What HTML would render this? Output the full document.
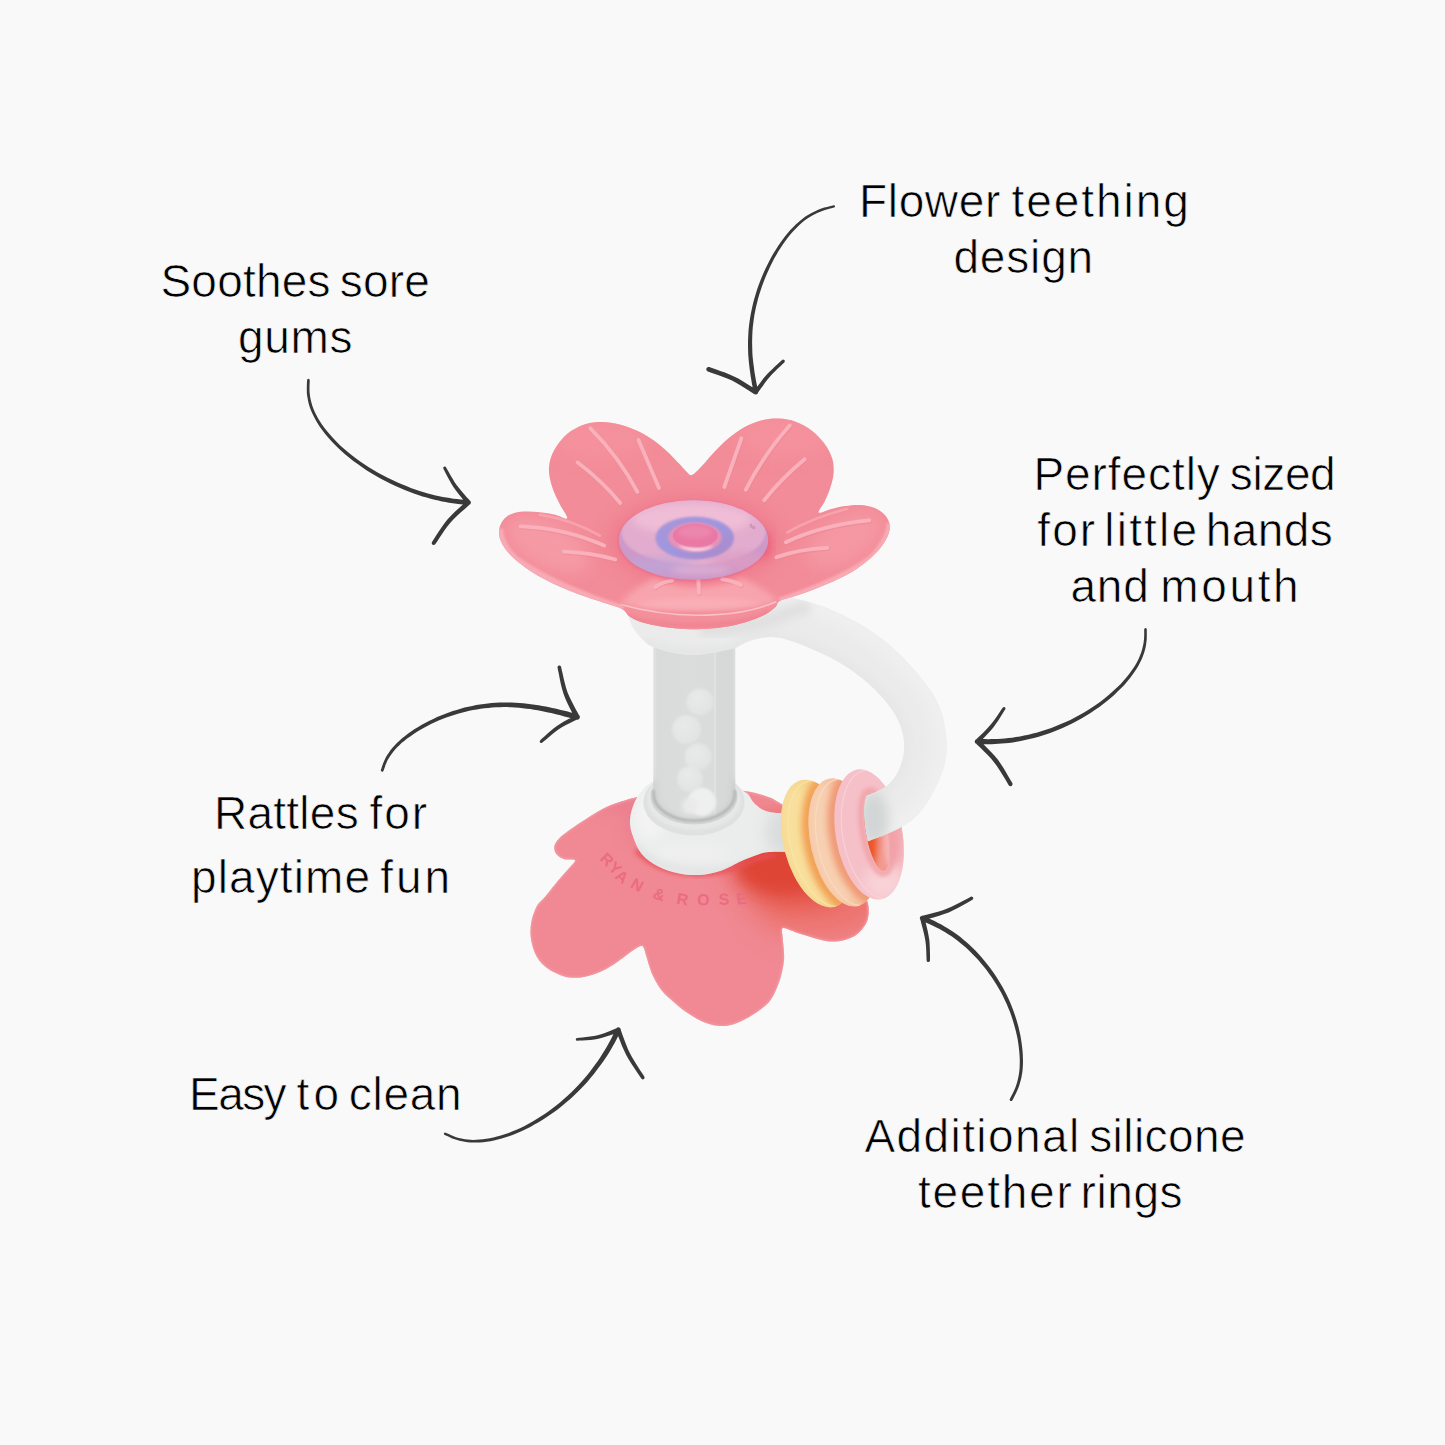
<!DOCTYPE html>
<html lang="en"><head><meta charset="utf-8"><title>Flower teether features</title>
<style>
html,body{margin:0;padding:0;background:#f9f9f9;}
body{width:1445px;height:1445px;overflow:hidden;position:relative;font-family:"Liberation Sans",sans-serif;}
svg{position:absolute;left:0;top:0;display:block}
.lbl{font-family:"Liberation Sans",sans-serif;font-size:46px;fill:#000;stroke:#f9f9f9;stroke-width:.7px;}
.brand{font-family:"Liberation Sans",sans-serif;font-size:16px;font-weight:bold;fill:#eb6c80;}
</style></head><body>
<svg width="1445" height="1445" viewBox="0 0 1445 1445">
<defs>
<filter id="b1" x="-20%" y="-20%" width="140%" height="140%"><feGaussianBlur stdDeviation="1"/></filter>
<filter id="b2" x="-20%" y="-20%" width="140%" height="140%"><feGaussianBlur stdDeviation="2"/></filter>
<filter id="b3" x="-30%" y="-30%" width="160%" height="160%"><feGaussianBlur stdDeviation="3"/></filter>
<filter id="b4" x="-30%" y="-30%" width="160%" height="160%"><feGaussianBlur stdDeviation="4"/></filter>
<filter id="b6" x="-40%" y="-40%" width="180%" height="180%"><feGaussianBlur stdDeviation="6"/></filter>
<filter id="b8" x="-50%" y="-50%" width="200%" height="200%"><feGaussianBlur stdDeviation="8"/></filter>
<filter id="b14" x="-50%" y="-50%" width="200%" height="200%"><feGaussianBlur stdDeviation="14"/></filter>
<clipPath id="cBase"><path d="M640.0 796.5 C630.0 798.5 625.9 800.1 619.7 802.1 C613.5 804.1 608.5 806.0 603.0 808.8 C597.5 811.6 591.9 815.3 586.4 818.8 C580.9 822.3 574.4 826.5 569.8 829.8 C565.2 833.1 561.4 835.9 558.8 838.7 C556.2 841.5 554.7 843.8 554.3 846.4 C553.9 849.0 554.8 852.1 556.5 854.2 C558.2 856.3 561.2 858.2 564.3 859.2 C567.4 860.2 574.3 858.6 575.0 860.2 C575.7 861.8 571.4 865.4 568.7 868.6 C566.0 871.9 562.7 875.1 558.8 879.7 C554.9 884.3 549.2 891.8 545.5 896.3 C541.8 900.8 539.0 902.1 536.6 906.6 C534.2 911.1 532.0 917.7 531.1 923.2 C530.2 928.7 530.2 934.3 531.1 939.8 C532.0 945.3 533.8 951.6 536.6 956.4 C539.4 961.2 543.1 965.3 547.7 968.6 C552.3 971.9 558.8 974.9 564.3 976.4 C569.8 977.9 575.4 978.1 580.9 977.5 C586.4 976.9 592.0 975.2 597.5 973.0 C603.0 970.8 608.6 967.7 614.1 964.2 C619.6 960.7 626.5 955.0 630.7 952.0 C635.0 949.0 637.5 947.2 639.6 946.5 C641.8 945.8 642.5 945.9 643.6 947.5 C644.7 949.1 644.7 951.6 646.2 956.1 C647.7 960.6 649.9 969.1 652.4 974.7 C654.9 980.3 658.0 985.5 661.1 989.7 C664.2 993.9 666.9 996.0 671.1 999.7 C675.3 1003.4 680.9 1008.5 686.1 1012.1 C691.3 1015.7 697.0 1019.2 702.2 1021.5 C707.4 1023.8 712.6 1025.2 717.2 1025.8 C721.8 1026.4 725.6 1026.0 729.7 1025.2 C733.9 1024.4 737.5 1023.0 742.1 1020.8 C746.7 1018.6 752.3 1015.6 757.1 1012.1 C761.9 1008.6 767.1 1004.9 770.8 999.7 C774.5 994.5 777.3 987.2 779.5 981.0 C781.7 974.8 783.1 967.5 783.8 962.3 C784.5 957.1 784.0 953.9 783.8 949.8 C783.6 945.6 782.8 941.0 782.6 937.4 C782.4 933.8 781.1 929.3 782.6 928.2 C784.1 927.1 788.7 929.8 791.9 930.8 C795.1 931.8 795.2 932.4 801.7 934.2 C808.2 936.0 822.3 941.0 830.8 941.5 C839.3 942.0 846.8 940.0 852.6 937.1 C858.4 934.2 863.0 928.6 865.7 924.0 C868.4 919.4 868.7 914.3 868.6 909.5 C868.5 904.7 868.1 903.2 865.0 895.0 C861.9 886.8 857.5 871.7 850.0 860.0 C842.5 848.3 828.3 833.0 820.0 825.0 C811.7 817.0 806.3 815.5 800.0 812.0 C793.7 808.5 787.0 806.6 782.0 804.2 C777.0 801.8 775.2 799.7 769.8 797.6 C764.4 795.5 757.7 793.2 749.4 791.8 C741.1 790.4 731.6 789.3 720.0 789.0 C708.4 788.7 693.3 788.8 680.0 790.0 C666.7 791.2 650.0 794.5 640.0 796.5 Z"/></clipPath>
<clipPath id="cFlower"><path d="M691.0 475.2 C692.7 475.1 694.5 473.2 696.7 471.3 C698.9 469.3 701.2 466.7 704.2 463.5 C707.2 460.2 710.6 455.8 714.7 451.5 C718.8 447.3 723.7 442.2 728.8 438.0 C733.8 433.9 739.6 429.8 745.1 426.8 C750.7 423.8 756.4 421.7 762.0 420.3 C767.5 418.9 773.1 418.3 778.7 418.6 C784.3 418.8 790.0 419.7 795.6 421.8 C801.1 423.8 807.0 427.0 811.9 430.7 C816.8 434.4 821.5 439.6 824.9 444.2 C828.3 448.9 830.8 454.0 832.3 458.8 C833.7 463.6 833.9 468.1 833.6 472.9 C833.3 477.7 831.8 483.0 830.3 487.8 C828.8 492.6 826.5 497.7 824.6 501.8 C822.6 506.0 817.5 511.4 818.6 512.6 C819.7 513.8 826.7 510.2 831.2 509.0 C835.6 507.9 840.5 506.6 845.4 506.0 C850.3 505.3 855.8 504.7 860.5 505.0 C865.3 505.3 870.2 506.2 874.1 507.8 C878.0 509.3 881.6 511.7 884.2 514.2 C886.7 516.7 888.5 519.8 889.3 523.0 C890.1 526.1 889.9 529.5 888.8 533.1 C887.8 536.7 885.7 540.6 882.9 544.6 C880.0 548.7 876.0 553.3 871.6 557.3 C867.1 561.4 861.8 565.5 856.2 569.2 C850.5 572.8 844.3 576.1 837.6 579.3 C831.0 582.5 823.2 585.7 816.2 588.4 C809.2 591.2 801.9 593.8 795.8 595.8 C789.8 597.9 783.4 599.0 779.9 600.9 C776.4 602.8 778.0 604.9 774.9 607.4 C771.8 610.0 767.7 613.4 761.5 616.2 C755.2 619.0 745.7 622.3 737.2 624.4 C728.8 626.4 718.7 627.8 710.8 628.6 C702.9 629.4 696.1 629.4 689.7 629.3 C683.3 629.2 678.2 628.7 672.5 628.1 C666.9 627.5 661.1 626.7 655.8 625.6 C650.4 624.5 644.8 623.2 640.4 621.7 C636.0 620.1 632.3 618.3 629.4 616.2 C626.5 614.2 626.0 611.2 622.9 609.4 C619.8 607.6 615.3 606.7 610.8 605.1 C606.2 603.6 601.0 602.0 595.6 600.1 C590.3 598.3 584.4 596.4 578.7 594.3 C573.1 592.2 567.5 590.0 561.9 587.5 C556.3 585.1 550.6 582.4 545.1 579.5 C539.6 576.6 533.9 573.3 529.0 570.0 C524.0 566.7 519.3 563.1 515.3 559.6 C511.4 556.1 508.0 552.5 505.4 549.0 C502.9 545.5 501.0 542.0 499.9 538.6 C498.9 535.2 498.7 531.8 499.3 528.7 C499.8 525.5 501.3 522.4 503.3 519.9 C505.4 517.5 508.1 515.3 511.6 513.9 C515.0 512.5 519.2 511.8 523.9 511.5 C528.6 511.2 534.6 511.6 539.8 512.2 C545.0 512.7 550.7 513.8 555.2 514.8 C559.8 515.8 566.5 520.2 567.2 518.3 C567.9 516.4 561.8 508.6 559.4 503.5 C556.9 498.5 554.1 493.0 552.4 487.8 C550.7 482.6 549.2 477.2 549.0 472.1 C548.7 467.0 549.4 462.1 551.0 457.2 C552.7 452.4 555.4 447.4 558.8 443.0 C562.1 438.7 566.5 434.3 571.0 431.1 C575.6 428.0 580.8 425.4 586.0 423.9 C591.2 422.3 596.7 421.8 602.3 421.9 C608.0 422.0 613.9 423.0 619.7 424.5 C625.5 426.0 631.5 428.2 637.1 430.7 C642.7 433.3 648.1 436.4 653.2 439.9 C658.3 443.4 663.2 447.7 667.5 451.7 C671.8 455.6 675.8 460.2 679.0 463.6 C682.1 466.9 684.3 469.6 686.3 471.6 C688.3 473.5 689.3 475.3 691.0 475.2 Z"/></clipPath>
<clipPath id="cHandle"><path d="M785.0 596.0 C787.4 596.6 794.4 598.3 799.1 599.5 C803.8 600.7 808.4 601.8 813.1 603.3 C817.7 604.7 822.3 606.2 826.9 608.0 C831.5 609.8 836.1 611.9 840.7 614.0 C845.3 616.2 850.0 618.6 854.6 621.1 C859.2 623.6 863.8 626.3 868.4 629.3 C873.0 632.3 877.6 635.5 882.3 639.1 C886.9 642.8 891.8 646.8 896.3 651.1 C900.8 655.3 905.4 660.0 909.6 664.5 C913.7 669.1 917.6 673.6 921.2 678.2 C924.8 682.7 928.3 687.0 931.4 691.8 C934.5 696.6 937.4 701.6 939.5 706.9 C941.7 712.2 943.2 718.2 944.3 723.4 C945.4 728.7 945.9 733.7 946.3 738.5 C946.7 743.3 947.3 746.8 946.7 752.3 C946.0 757.8 945.1 764.1 942.4 771.6 C939.8 779.1 935.2 789.4 930.6 797.2 C925.9 805.0 920.4 812.6 914.4 818.1 C908.4 823.6 901.9 826.8 894.8 830.4 C887.7 834.0 879.0 836.9 871.9 839.8 C864.8 842.8 855.3 846.6 852.0 848.0 L850.0 801.0 C852.5 800.2 860.3 797.7 864.8 796.1 C869.2 794.5 873.4 793.0 876.9 791.4 C880.4 789.8 883.1 788.6 885.9 786.5 C888.6 784.4 891.1 782.2 893.5 779.0 C895.8 775.8 898.3 771.7 900.0 767.4 C901.8 763.2 903.1 758.2 903.8 753.6 C904.4 748.9 904.4 744.1 903.8 739.5 C903.3 734.9 902.1 730.3 900.4 725.7 C898.6 721.0 896.2 716.3 893.2 711.6 C890.1 706.8 886.2 701.8 882.2 697.2 C878.1 692.5 873.3 687.8 868.7 683.7 C864.1 679.5 859.3 675.8 854.6 672.4 C850.0 669.0 845.3 666.0 840.7 663.3 C836.1 660.5 831.5 658.1 826.9 655.8 C822.3 653.4 817.6 651.4 813.0 649.4 C808.4 647.4 803.8 645.4 799.2 643.7 C794.6 642.0 790.0 640.3 785.4 639.2 C780.8 638.1 776.1 637.2 771.4 637.1 C766.7 637.0 761.7 637.7 757.2 638.7 C752.8 639.6 748.5 641.4 744.8 642.9 C741.2 644.5 737.1 647.2 735.5 648.1 C732.1 648.8 722.1 651.4 715.0 652.5 C707.9 653.6 700.2 655.0 693.0 655.0 C685.8 655.0 678.5 653.8 672.0 652.5 C665.5 651.2 658.9 649.1 654.3 647.2 C649.7 645.4 648.1 644.6 644.6 641.4 C641.1 638.2 635.9 632.7 633.0 627.8 C630.1 622.9 628.0 614.6 627.0 612.0 Z"/></clipPath>
<clipPath id="cCollar"><path d="M654.3 780.8 C652.7 781.9 647.8 784.2 644.6 787.7 C641.4 791.2 637.3 796.2 634.9 801.5 C632.5 806.8 630.4 813.7 630.0 819.5 C629.6 825.3 630.8 830.3 632.8 836.1 C634.8 841.9 637.5 849.0 641.8 854.1 C646.1 859.2 652.2 863.4 658.4 866.6 C664.6 869.8 672.3 872.1 679.2 873.5 C686.1 874.9 693.1 875.4 700.0 874.9 C706.9 874.4 713.8 873.0 720.7 870.7 C727.6 868.4 735.7 863.5 741.5 861.0 C747.3 858.5 750.7 857.0 755.3 855.5 C759.9 854.0 761.8 852.6 769.2 852.0 C776.7 851.4 794.9 852.0 800.0 852.0 L800.0 814.0 C794.9 813.6 776.7 813.5 769.2 811.9 C761.8 810.3 758.8 807.2 755.3 804.3 C751.8 801.4 750.5 796.9 748.4 794.6 C746.3 792.3 745.2 792.5 742.9 790.4 C740.6 788.3 736.0 783.5 734.6 782.1 Z"/></clipPath>
<clipPath id="cPink"><ellipse cx="869.1" cy="834.4" rx="33.3" ry="65.9" transform="rotate(-10.4 869.1 834.4)" /></clipPath>
<clipPath id="cPeach"><ellipse cx="843.2" cy="842.4" rx="32.4" ry="65.4" transform="rotate(-12.8 843.2 842.4)" /></clipPath>
<clipPath id="cYellow"><ellipse cx="817.75" cy="843.55" rx="33.8" ry="65.5" transform="rotate(-15.2 817.75 843.55)" /></clipPath>
<clipPath id="cHole"><ellipse cx="876.7" cy="832" rx="10.8" ry="39.6" transform="rotate(-10.4 876.7 832)" /></clipPath>
<mask id="mHandle" maskUnits="userSpaceOnUse" x="600" y="560" width="400" height="360"><rect x="600" y="560" width="400" height="360" fill="#fff"/><ellipse cx="869.1" cy="834.4" rx="33.3" ry="65.9" transform="rotate(-10.4 869.1 834.4)" fill="#000"/><ellipse cx="876.7" cy="832" rx="10.8" ry="39.6" transform="rotate(-10.4 876.7 832)" fill="#fff"/><path d="M865.9 773 L887.5 891 L960 891 L960 773 Z" fill="#fff"/></mask>
<clipPath id="cDisc"><ellipse cx="693.5" cy="540" rx="74.7" ry="39.7"/></clipPath>
<clipPath id="cTube"><path d="M653.2 647 L735.3 647 L735.3 794 A41 27 0 0 1 653.2 794 Z"/></clipPath>
<linearGradient id="gTube" x1="0" x2="1" y1="0" y2="0">
 <stop offset="0" stop-color="#e2e3e3"/><stop offset=".05" stop-color="#d9dada"/><stop offset=".4" stop-color="#dbdcdc"/><stop offset=".735" stop-color="#dadbdb"/><stop offset=".75" stop-color="#e3e4e4"/><stop offset=".775" stop-color="#d7d8d8"/><stop offset=".96" stop-color="#d6d7d7"/><stop offset="1" stop-color="#dedfdf"/>
</linearGradient>
<linearGradient id="gBlue" x1="0" x2="1" y1="0" y2="1"><stop offset="0" stop-color="#ab96d6"/><stop offset=".5" stop-color="#9e97e0"/><stop offset="1" stop-color="#b086c4"/></linearGradient>
<radialGradient id="gBead" cx=".4" cy=".35" r=".7"><stop offset="0" stop-color="#e8e9e9"/><stop offset="1" stop-color="#e1e2e2"/></radialGradient>
</defs>
<rect width="1445" height="1445" fill="#f9f9f9"/>

<g id="product">
<path d="M640.0 796.5 C630.0 798.5 625.9 800.1 619.7 802.1 C613.5 804.1 608.5 806.0 603.0 808.8 C597.5 811.6 591.9 815.3 586.4 818.8 C580.9 822.3 574.4 826.5 569.8 829.8 C565.2 833.1 561.4 835.9 558.8 838.7 C556.2 841.5 554.7 843.8 554.3 846.4 C553.9 849.0 554.8 852.1 556.5 854.2 C558.2 856.3 561.2 858.2 564.3 859.2 C567.4 860.2 574.3 858.6 575.0 860.2 C575.7 861.8 571.4 865.4 568.7 868.6 C566.0 871.9 562.7 875.1 558.8 879.7 C554.9 884.3 549.2 891.8 545.5 896.3 C541.8 900.8 539.0 902.1 536.6 906.6 C534.2 911.1 532.0 917.7 531.1 923.2 C530.2 928.7 530.2 934.3 531.1 939.8 C532.0 945.3 533.8 951.6 536.6 956.4 C539.4 961.2 543.1 965.3 547.7 968.6 C552.3 971.9 558.8 974.9 564.3 976.4 C569.8 977.9 575.4 978.1 580.9 977.5 C586.4 976.9 592.0 975.2 597.5 973.0 C603.0 970.8 608.6 967.7 614.1 964.2 C619.6 960.7 626.5 955.0 630.7 952.0 C635.0 949.0 637.5 947.2 639.6 946.5 C641.8 945.8 642.5 945.9 643.6 947.5 C644.7 949.1 644.7 951.6 646.2 956.1 C647.7 960.6 649.9 969.1 652.4 974.7 C654.9 980.3 658.0 985.5 661.1 989.7 C664.2 993.9 666.9 996.0 671.1 999.7 C675.3 1003.4 680.9 1008.5 686.1 1012.1 C691.3 1015.7 697.0 1019.2 702.2 1021.5 C707.4 1023.8 712.6 1025.2 717.2 1025.8 C721.8 1026.4 725.6 1026.0 729.7 1025.2 C733.9 1024.4 737.5 1023.0 742.1 1020.8 C746.7 1018.6 752.3 1015.6 757.1 1012.1 C761.9 1008.6 767.1 1004.9 770.8 999.7 C774.5 994.5 777.3 987.2 779.5 981.0 C781.7 974.8 783.1 967.5 783.8 962.3 C784.5 957.1 784.0 953.9 783.8 949.8 C783.6 945.6 782.8 941.0 782.6 937.4 C782.4 933.8 781.1 929.3 782.6 928.2 C784.1 927.1 788.7 929.8 791.9 930.8 C795.1 931.8 795.2 932.4 801.7 934.2 C808.2 936.0 822.3 941.0 830.8 941.5 C839.3 942.0 846.8 940.0 852.6 937.1 C858.4 934.2 863.0 928.6 865.7 924.0 C868.4 919.4 868.7 914.3 868.6 909.5 C868.5 904.7 868.1 903.2 865.0 895.0 C861.9 886.8 857.5 871.7 850.0 860.0 C842.5 848.3 828.3 833.0 820.0 825.0 C811.7 817.0 806.3 815.5 800.0 812.0 C793.7 808.5 787.0 806.6 782.0 804.2 C777.0 801.8 775.2 799.7 769.8 797.6 C764.4 795.5 757.7 793.2 749.4 791.8 C741.1 790.4 731.6 789.3 720.0 789.0 C708.4 788.7 693.3 788.8 680.0 790.0 C666.7 791.2 650.0 794.5 640.0 796.5 Z" fill="#f08993"/>
<g clip-path="url(#cBase)">
<ellipse cx="822" cy="900" rx="70" ry="40" fill="#ec6e64" opacity=".7" filter="url(#b14)"/>
<ellipse cx="797" cy="862" rx="64" ry="42" fill="#e14a3a" filter="url(#b14)"/>
<ellipse cx="778" cy="868" rx="40" ry="22" fill="#de4434" filter="url(#b8)"/>
<path d="M636 850 C655 872 700 882 740 866 C755 859 765 856 775 855" stroke="#ea5058" stroke-width="5" fill="none" opacity=".85" filter="url(#b2)"/>
<path d="M596 803 C620 796 640 800 636 840" stroke="#e4718a" stroke-width="14" fill="none" opacity=".55" filter="url(#b8)"/>
</g>
<g clip-path="url(#cBase)">
<path d="M640.0 796.5 C630.0 798.5 625.9 800.1 619.7 802.1 C613.5 804.1 608.5 806.0 603.0 808.8 C597.5 811.6 591.9 815.3 586.4 818.8 C580.9 822.3 574.4 826.5 569.8 829.8 C565.2 833.1 561.4 835.9 558.8 838.7 C556.2 841.5 554.7 843.8 554.3 846.4 C553.9 849.0 554.8 852.1 556.5 854.2 C558.2 856.3 561.2 858.2 564.3 859.2 C567.4 860.2 574.3 858.6 575.0 860.2 C575.7 861.8 571.4 865.4 568.7 868.6 C566.0 871.9 562.7 875.1 558.8 879.7 C554.9 884.3 549.2 891.8 545.5 896.3 C541.8 900.8 539.0 902.1 536.6 906.6 C534.2 911.1 532.0 917.7 531.1 923.2 C530.2 928.7 530.2 934.3 531.1 939.8 C532.0 945.3 533.8 951.6 536.6 956.4 C539.4 961.2 543.1 965.3 547.7 968.6 C552.3 971.9 558.8 974.9 564.3 976.4 C569.8 977.9 575.4 978.1 580.9 977.5 C586.4 976.9 592.0 975.2 597.5 973.0 C603.0 970.8 608.6 967.7 614.1 964.2 C619.6 960.7 626.5 955.0 630.7 952.0 C635.0 949.0 637.5 947.2 639.6 946.5 C641.8 945.8 642.5 945.9 643.6 947.5 C644.7 949.1 644.7 951.6 646.2 956.1 C647.7 960.6 649.9 969.1 652.4 974.7 C654.9 980.3 658.0 985.5 661.1 989.7 C664.2 993.9 666.9 996.0 671.1 999.7 C675.3 1003.4 680.9 1008.5 686.1 1012.1 C691.3 1015.7 697.0 1019.2 702.2 1021.5 C707.4 1023.8 712.6 1025.2 717.2 1025.8 C721.8 1026.4 725.6 1026.0 729.7 1025.2 C733.9 1024.4 737.5 1023.0 742.1 1020.8 C746.7 1018.6 752.3 1015.6 757.1 1012.1 C761.9 1008.6 767.1 1004.9 770.8 999.7 C774.5 994.5 777.3 987.2 779.5 981.0 C781.7 974.8 783.1 967.5 783.8 962.3 C784.5 957.1 784.0 953.9 783.8 949.8 C783.6 945.6 782.8 941.0 782.6 937.4 C782.4 933.8 781.1 929.3 782.6 928.2 C784.1 927.1 788.7 929.8 791.9 930.8 C795.1 931.8 795.2 932.4 801.7 934.2 C808.2 936.0 822.3 941.0 830.8 941.5 C839.3 942.0 846.8 940.0 852.6 937.1 C858.4 934.2 863.0 928.6 865.7 924.0 C868.4 919.4 868.7 914.3 868.6 909.5 C868.5 904.7 868.1 903.2 865.0 895.0 C861.9 886.8 857.5 871.7 850.0 860.0 C842.5 848.3 828.3 833.0 820.0 825.0 C811.7 817.0 806.3 815.5 800.0 812.0 C793.7 808.5 787.0 806.6 782.0 804.2 C777.0 801.8 775.2 799.7 769.8 797.6 C764.4 795.5 757.7 793.2 749.4 791.8 C741.1 790.4 731.6 789.3 720.0 789.0 C708.4 788.7 693.3 788.8 680.0 790.0 C666.7 791.2 650.0 794.5 640.0 796.5 Z" fill="none" stroke="#f6a3ab" stroke-width="2.4" opacity=".7" filter="url(#b1)"/>
</g>
<text class="brand" x="598.9 607.4 614.1 629.5 643.6 652.1 667.6 676.1 696.9 718.9 737.1" y="859.5 868.8 877.4 886.9 894.3 897.9 902.1 903.7 905.0 904.9 904.7" rotate="44 42 38 29 24 17 12 9 2 -3 -7">RYAN &amp; ROSE</text>
<path d="M654.3 780.8 C652.7 781.9 647.8 784.2 644.6 787.7 C641.4 791.2 637.3 796.2 634.9 801.5 C632.5 806.8 630.4 813.7 630.0 819.5 C629.6 825.3 630.8 830.3 632.8 836.1 C634.8 841.9 637.5 849.0 641.8 854.1 C646.1 859.2 652.2 863.4 658.4 866.6 C664.6 869.8 672.3 872.1 679.2 873.5 C686.1 874.9 693.1 875.4 700.0 874.9 C706.9 874.4 713.8 873.0 720.7 870.7 C727.6 868.4 735.7 863.5 741.5 861.0 C747.3 858.5 750.7 857.0 755.3 855.5 C759.9 854.0 761.8 852.6 769.2 852.0 C776.7 851.4 794.9 852.0 800.0 852.0 L800.0 814.0 C794.9 813.6 776.7 813.5 769.2 811.9 C761.8 810.3 758.8 807.2 755.3 804.3 C751.8 801.4 750.5 796.9 748.4 794.6 C746.3 792.3 745.2 792.5 742.9 790.4 C740.6 788.3 736.0 783.5 734.6 782.1 Z" fill="#ebecec"/>
<g clip-path="url(#cCollar)">
<ellipse cx="650" cy="815" rx="16" ry="26" fill="#f3f3f3" filter="url(#b6)"/>
<ellipse cx="690" cy="852" rx="40" ry="8" fill="#efefef" filter="url(#b4)"/>
<ellipse cx="790" cy="832" rx="24" ry="26" fill="#d9dcdc" filter="url(#b8)"/>
<path d="M636 846 C655 874 720 882 765 855" stroke="#e2e3e3" stroke-width="7" fill="none" filter="url(#b3)"/>
</g>
<ellipse cx="694" cy="802.5" rx="50.5" ry="33" fill="#dfe0e0"/>
<ellipse cx="694" cy="800" rx="47" ry="30" fill="#e6e7e7" filter="url(#b1)"/>
<ellipse cx="694" cy="797" rx="43.5" ry="27.5" fill="#d3d4d4"/>
<path d="M653.2 647 L735.3 647 L735.3 794 A41 27 0 0 1 653.2 794 Z" fill="url(#gTube)"/>
<g clip-path="url(#cTube)">
<circle cx="700" cy="702" r="13.5" fill="url(#gBead)" filter="url(#b1)"/>
<circle cx="686.5" cy="729.5" r="14.5" fill="url(#gBead)" filter="url(#b1)"/>
<circle cx="698" cy="757" r="13.5" fill="url(#gBead)" filter="url(#b1)"/>
<circle cx="690" cy="779" r="13" fill="url(#gBead)" filter="url(#b1)"/>
<circle cx="702" cy="802" r="14.5" fill="url(#gBead)" filter="url(#b1)"/>
<path d="M651 780 L651 794 A43 30 0 0 0 737.5 794 L737.5 780" fill="none" stroke="#bfc0c0" stroke-width="7" opacity=".8" filter="url(#b3)"/>
<circle cx="702" cy="802" r="13.5" fill="#efefef" filter="url(#b1)"/>
<circle cx="690" cy="806" r="8" fill="#eaeaea" filter="url(#b2)"/>
</g>
<path d="M653.6 790 L653.6 794 A40.6 26.6 0 0 0 734.9 794 L734.9 790" fill="none" stroke="#a9aaaa" stroke-width="2" opacity=".9" filter="url(#b1)"/>
<ellipse cx="817.75" cy="843.55" rx="33.8" ry="65.5" transform="rotate(-15.2 817.75 843.55)" fill="#f5d78f"/>
<g clip-path="url(#cYellow)">
<ellipse cx="808.75" cy="844.55" rx="23.799999999999997" ry="59.5" transform="rotate(-15.2 808.75 844.55)" fill="#f8df9c" filter="url(#b4)"/>
<ellipse cx="845.2" cy="842.4" rx="35.4" ry="67.4" transform="rotate(-12.8 845.2 842.4)" fill="none" stroke="#f2a055" stroke-width="12" filter="url(#b3)"/>
</g>
<g clip-path="url(#cYellow)"><ellipse cx="824.75" cy="843.55" rx="33.8" ry="64.5" transform="rotate(-15.2 824.75 843.55)" fill="none" stroke="#fbe6ae" stroke-width="1.1" opacity=".8"/></g>
<ellipse cx="843.2" cy="842.4" rx="32.4" ry="65.4" transform="rotate(-12.8 843.2 842.4)" fill="#f5c6a4"/>
<g clip-path="url(#cPeach)">
<ellipse cx="834.2" cy="843.4" rx="22.4" ry="59.400000000000006" transform="rotate(-12.8 834.2 843.4)" fill="#f7d0b2" filter="url(#b4)"/>
<ellipse cx="871.1" cy="834.4" rx="36.3" ry="67.9" transform="rotate(-10.4 871.1 834.4)" fill="none" stroke="#f09a74" stroke-width="12" filter="url(#b3)"/>
</g>
<g clip-path="url(#cPeach)"><ellipse cx="850.2" cy="842.4" rx="32.4" ry="64.4" transform="rotate(-12.8 850.2 842.4)" fill="none" stroke="#fbdcc6" stroke-width="1.1" opacity=".8"/></g>
<ellipse cx="869.1" cy="834.4" rx="33.3" ry="65.9" transform="rotate(-10.4 869.1 834.4)" fill="#f5c0c8"/>
<g clip-path="url(#cPink)">
<ellipse cx="884" cy="882" rx="20" ry="18" fill="#f8d2d6" filter="url(#b6)"/>
<ellipse cx="895" cy="838" rx="8" ry="28" fill="#f3a4aa" filter="url(#b4)"/>
<ellipse cx="876.7" cy="832" rx="13.8" ry="42.6" transform="rotate(-10.4 876.7 832)" fill="none" stroke="#f0a0a6" stroke-width="5" filter="url(#b2)"/>
</g>
<g clip-path="url(#cPink)"><ellipse cx="876.1" cy="834.4" rx="33.3" ry="64.9" transform="rotate(-10.4 876.1 834.4)" fill="none" stroke="#fad6da" stroke-width="1.1" opacity=".8"/></g>
<ellipse cx="876.7" cy="832" rx="10.8" ry="39.6" transform="rotate(-10.4 876.7 832)" fill="#f39a90"/>
<g clip-path="url(#cHole)">
<ellipse cx="868" cy="842" rx="9" ry="32" fill="#eb5426" filter="url(#b3)"/>
<ellipse cx="889" cy="840" rx="5" ry="26" fill="#f6b4b4" filter="url(#b2)"/>
</g>
<g mask="url(#mHandle)">
<path d="M785.0 596.0 C787.4 596.6 794.4 598.3 799.1 599.5 C803.8 600.7 808.4 601.8 813.1 603.3 C817.7 604.7 822.3 606.2 826.9 608.0 C831.5 609.8 836.1 611.9 840.7 614.0 C845.3 616.2 850.0 618.6 854.6 621.1 C859.2 623.6 863.8 626.3 868.4 629.3 C873.0 632.3 877.6 635.5 882.3 639.1 C886.9 642.8 891.8 646.8 896.3 651.1 C900.8 655.3 905.4 660.0 909.6 664.5 C913.7 669.1 917.6 673.6 921.2 678.2 C924.8 682.7 928.3 687.0 931.4 691.8 C934.5 696.6 937.4 701.6 939.5 706.9 C941.7 712.2 943.2 718.2 944.3 723.4 C945.4 728.7 945.9 733.7 946.3 738.5 C946.7 743.3 947.3 746.8 946.7 752.3 C946.0 757.8 945.1 764.1 942.4 771.6 C939.8 779.1 935.2 789.4 930.6 797.2 C925.9 805.0 920.4 812.6 914.4 818.1 C908.4 823.6 901.9 826.8 894.8 830.4 C887.7 834.0 879.0 836.9 871.9 839.8 C864.8 842.8 855.3 846.6 852.0 848.0 L850.0 801.0 C852.5 800.2 860.3 797.7 864.8 796.1 C869.2 794.5 873.4 793.0 876.9 791.4 C880.4 789.8 883.1 788.6 885.9 786.5 C888.6 784.4 891.1 782.2 893.5 779.0 C895.8 775.8 898.3 771.7 900.0 767.4 C901.8 763.2 903.1 758.2 903.8 753.6 C904.4 748.9 904.4 744.1 903.8 739.5 C903.3 734.9 902.1 730.3 900.4 725.7 C898.6 721.0 896.2 716.3 893.2 711.6 C890.1 706.8 886.2 701.8 882.2 697.2 C878.1 692.5 873.3 687.8 868.7 683.7 C864.1 679.5 859.3 675.8 854.6 672.4 C850.0 669.0 845.3 666.0 840.7 663.3 C836.1 660.5 831.5 658.1 826.9 655.8 C822.3 653.4 817.6 651.4 813.0 649.4 C808.4 647.4 803.8 645.4 799.2 643.7 C794.6 642.0 790.0 640.3 785.4 639.2 C780.8 638.1 776.1 637.2 771.4 637.1 C766.7 637.0 761.7 637.7 757.2 638.7 C752.8 639.6 748.5 641.4 744.8 642.9 C741.2 644.5 737.1 647.2 735.5 648.1 C732.1 648.8 722.1 651.4 715.0 652.5 C707.9 653.6 700.2 655.0 693.0 655.0 C685.8 655.0 678.5 653.8 672.0 652.5 C665.5 651.2 658.9 649.1 654.3 647.2 C649.7 645.4 648.1 644.6 644.6 641.4 C641.1 638.2 635.9 632.7 633.0 627.8 C630.1 622.9 628.0 614.6 627.0 612.0 Z" fill="#ebebeb"/>
<g clip-path="url(#cHandle)">
<path d="M785.0 596.0 C787.4 596.6 794.4 598.3 799.1 599.5 C803.8 600.7 808.4 601.8 813.1 603.3 C817.7 604.7 822.3 606.2 826.9 608.0 C831.5 609.8 836.1 611.9 840.7 614.0 C845.3 616.2 850.0 618.6 854.6 621.1 C859.2 623.6 863.8 626.3 868.4 629.3 C873.0 632.3 877.6 635.5 882.3 639.1 C886.9 642.8 891.8 646.8 896.3 651.1 C900.8 655.3 905.4 660.0 909.6 664.5 C913.7 669.1 917.6 673.6 921.2 678.2 C924.8 682.7 928.3 687.0 931.4 691.8 C934.5 696.6 937.4 701.6 939.5 706.9 C941.7 712.2 943.2 718.2 944.3 723.4 C945.4 728.7 945.9 733.7 946.3 738.5 C946.7 743.3 947.3 746.8 946.7 752.3 C946.0 757.8 945.1 764.1 942.4 771.6 C939.8 779.1 935.2 789.4 930.6 797.2 C925.9 805.0 920.4 812.6 914.4 818.1 C908.4 823.6 898.0 828.3 894.8 830.4" stroke="#efefef" stroke-width="26" fill="none" filter="url(#b6)"/>
<path d="M864.8 796.1 C866.8 795.3 873.4 793.0 876.9 791.4 C880.4 789.8 883.1 788.6 885.9 786.5 C888.6 784.4 891.1 782.2 893.5 779.0 C895.8 775.8 898.3 771.7 900.0 767.4 C901.8 763.2 903.1 758.2 903.8 753.6 C904.4 748.9 904.4 744.1 903.8 739.5 C903.3 734.9 902.1 730.3 900.4 725.7 C898.6 721.0 896.2 716.3 893.2 711.6 C890.1 706.8 886.2 701.8 882.2 697.2 C878.1 692.5 873.3 687.8 868.7 683.7 C864.1 679.5 859.3 675.8 854.6 672.4 C850.0 669.0 845.3 666.0 840.7 663.3 C836.1 660.5 831.5 658.1 826.9 655.8 C822.3 653.4 817.6 651.4 813.0 649.4 C808.4 647.4 803.8 645.4 799.2 643.7 C794.6 642.0 790.0 640.3 785.4 639.2 C780.8 638.1 776.1 637.2 771.4 637.1 C766.7 637.0 761.7 637.7 757.2 638.7 C752.8 639.6 748.5 641.4 744.8 642.9 C741.2 644.5 737.1 647.2 735.5 648.1" stroke="#e7e7e7" stroke-width="14" fill="none" filter="url(#b4)"/>
<ellipse cx="874" cy="818" rx="14" ry="26" fill="#d2d5d5" filter="url(#b6)"/>
<path d="M700 630 C740 630 770 622 790 612 L810 606" stroke="#e0e0e0" stroke-width="14" fill="none" filter="url(#b4)"/>
<path d="M644 641 C670 655 720 655 742 644" stroke="#e4e5e5" stroke-width="8" fill="none" filter="url(#b3)"/>
</g>
</g>
<path d="M691.0 475.2 C692.7 475.1 694.5 473.2 696.7 471.3 C698.9 469.3 701.2 466.7 704.2 463.5 C707.2 460.2 710.6 455.8 714.7 451.5 C718.8 447.3 723.7 442.2 728.8 438.0 C733.8 433.9 739.6 429.8 745.1 426.8 C750.7 423.8 756.4 421.7 762.0 420.3 C767.5 418.9 773.1 418.3 778.7 418.6 C784.3 418.8 790.0 419.7 795.6 421.8 C801.1 423.8 807.0 427.0 811.9 430.7 C816.8 434.4 821.5 439.6 824.9 444.2 C828.3 448.9 830.8 454.0 832.3 458.8 C833.7 463.6 833.9 468.1 833.6 472.9 C833.3 477.7 831.8 483.0 830.3 487.8 C828.8 492.6 826.5 497.7 824.6 501.8 C822.6 506.0 817.5 511.4 818.6 512.6 C819.7 513.8 826.7 510.2 831.2 509.0 C835.6 507.9 840.5 506.6 845.4 506.0 C850.3 505.3 855.8 504.7 860.5 505.0 C865.3 505.3 870.2 506.2 874.1 507.8 C878.0 509.3 881.6 511.7 884.2 514.2 C886.7 516.7 888.5 519.8 889.3 523.0 C890.1 526.1 889.9 529.5 888.8 533.1 C887.8 536.7 885.7 540.6 882.9 544.6 C880.0 548.7 876.0 553.3 871.6 557.3 C867.1 561.4 861.8 565.5 856.2 569.2 C850.5 572.8 844.3 576.1 837.6 579.3 C831.0 582.5 823.2 585.7 816.2 588.4 C809.2 591.2 801.9 593.8 795.8 595.8 C789.8 597.9 783.4 599.0 779.9 600.9 C776.4 602.8 778.0 604.9 774.9 607.4 C771.8 610.0 767.7 613.4 761.5 616.2 C755.2 619.0 745.7 622.3 737.2 624.4 C728.8 626.4 718.7 627.8 710.8 628.6 C702.9 629.4 696.1 629.4 689.7 629.3 C683.3 629.2 678.2 628.7 672.5 628.1 C666.9 627.5 661.1 626.7 655.8 625.6 C650.4 624.5 644.8 623.2 640.4 621.7 C636.0 620.1 632.3 618.3 629.4 616.2 C626.5 614.2 626.0 611.2 622.9 609.4 C619.8 607.6 615.3 606.7 610.8 605.1 C606.2 603.6 601.0 602.0 595.6 600.1 C590.3 598.3 584.4 596.4 578.7 594.3 C573.1 592.2 567.5 590.0 561.9 587.5 C556.3 585.1 550.6 582.4 545.1 579.5 C539.6 576.6 533.9 573.3 529.0 570.0 C524.0 566.7 519.3 563.1 515.3 559.6 C511.4 556.1 508.0 552.5 505.4 549.0 C502.9 545.5 501.0 542.0 499.9 538.6 C498.9 535.2 498.7 531.8 499.3 528.7 C499.8 525.5 501.3 522.4 503.3 519.9 C505.4 517.5 508.1 515.3 511.6 513.9 C515.0 512.5 519.2 511.8 523.9 511.5 C528.6 511.2 534.6 511.6 539.8 512.2 C545.0 512.7 550.7 513.8 555.2 514.8 C559.8 515.8 566.5 520.2 567.2 518.3 C567.9 516.4 561.8 508.6 559.4 503.5 C556.9 498.5 554.1 493.0 552.4 487.8 C550.7 482.6 549.2 477.2 549.0 472.1 C548.7 467.0 549.4 462.1 551.0 457.2 C552.7 452.4 555.4 447.4 558.8 443.0 C562.1 438.7 566.5 434.3 571.0 431.1 C575.6 428.0 580.8 425.4 586.0 423.9 C591.2 422.3 596.7 421.8 602.3 421.9 C608.0 422.0 613.9 423.0 619.7 424.5 C625.5 426.0 631.5 428.2 637.1 430.7 C642.7 433.3 648.1 436.4 653.2 439.9 C658.3 443.4 663.2 447.7 667.5 451.7 C671.8 455.6 675.8 460.2 679.0 463.6 C682.1 466.9 684.3 469.6 686.3 471.6 C688.3 473.5 689.3 475.3 691.0 475.2 Z" fill="#f28c98"/>
<g clip-path="url(#cFlower)">
<ellipse cx="600" cy="440" rx="50" ry="22" fill="#f6949f" opacity=".6" filter="url(#b8)"/>
<ellipse cx="785" cy="437" rx="50" ry="22" fill="#f6949f" opacity=".6" filter="url(#b8)"/>
<ellipse cx="548" cy="545" rx="46" ry="22" transform="rotate(28 548 545)" fill="#f7a0ab" opacity=".7" filter="url(#b8)"/>
<ellipse cx="845" cy="540" rx="42" ry="22" transform="rotate(-30 845 540)" fill="#f7a0ab" opacity=".6" filter="url(#b8)"/>
<ellipse cx="694" cy="541" rx="86" ry="47" fill="#ee7086" opacity=".5" filter="url(#b8)"/>
<path d="M620 604 C628 594 640 585 655 578 C680 590 710 590 742 578 C758 585 770 594 779 601.5 C750 613 640 613 620 604 Z" fill="#f8a4ae" filter="url(#b3)"/>
<path d="M636 604 C660 596 730 596 762 603 C740 611 660 612 636 604 Z" fill="#f9adb6" filter="url(#b2)"/>
<path d="M620.3 604.6 C640 610 670 615.2 696.9 615.2 C725 615.2 755 611 776.3 601.7 L780 612 C750 640 650 640 618 612 Z" fill="#f3909c"/>
<path d="M626 616 C650 628 740 630 770 612" stroke="#f08290" stroke-width="5" fill="none" filter="url(#b2)"/>
<path d="M620.3 604.6 C640 610 670 615.2 696.9 615.2 C725 615.2 755 611 776.3 601.7" stroke="#f9c0c6" stroke-width="1.6" fill="none"/>
<path d="M889.5 523.2 C890 535 880 549 871.8 557.5 C850 575 815 589 779.9 600.9" stroke="#f8aab4" stroke-width="6.5" fill="none" filter="url(#b1)"/>
<path d="M623 609.4 C590 599 545 581 515.5 559.8 C505 550 499.5 540 499.4 528.8" stroke="#f8aab4" stroke-width="8" fill="none" filter="url(#b1)"/>
<ellipse cx="764" cy="545" rx="7" ry="13" fill="#e8506a" opacity=".6" filter="url(#b4)"/>
</g>
<g fill="none" stroke="#ee7f8e" stroke-width="4.4" stroke-linecap="round" opacity=".45" transform="translate(0.5 0.8)">
<path d="M590.4 428.3 Q620 458 637.4 491.9"/>
<path d="M638.5 439.9 L659 488.1"/>
<path d="M577.6 462.6 Q601 480 620.3 503"/>
<path d="M520.5 526.3 Q565 528 604.2 545.6"/>
<path d="M563.8 551.7 Q592 553 615.3 559.5"/>
<path d="M741.5 438.2 L724.3 487"/>
<path d="M789.7 425.5 Q764 454 745.9 489.7"/>
<path d="M804.6 459.3 Q782 478 764.2 500.2"/>
<path d="M869.5 520.4 Q822 525 785.8 542.3"/>
<path d="M827.3 547.9 Q800 549 776.4 557.3"/>
<path d="M698.3 578.5 L699 593"/>
<path d="M672.1 580.7 Q662 582 655.4 587.2"/>
<path d="M722.2 579.2 Q733 581 741.1 585"/>
</g>
<g fill="none" stroke="#f9b2bb" stroke-width="3.8" stroke-linecap="round">
<path d="M590.4 428.3 Q620 458 637.4 491.9"/>
<path d="M638.5 439.9 L659 488.1"/>
<path d="M577.6 462.6 Q601 480 620.3 503"/>
<path d="M520.5 526.3 Q565 528 604.2 545.6"/>
<path d="M563.8 551.7 Q592 553 615.3 559.5"/>
<path d="M741.5 438.2 L724.3 487"/>
<path d="M789.7 425.5 Q764 454 745.9 489.7"/>
<path d="M804.6 459.3 Q782 478 764.2 500.2"/>
<path d="M869.5 520.4 Q822 525 785.8 542.3"/>
<path d="M827.3 547.9 Q800 549 776.4 557.3"/>
<path d="M698.3 578.5 L699 593"/>
<path d="M672.1 580.7 Q662 582 655.4 587.2"/>
<path d="M722.2 579.2 Q733 581 741.1 585"/>
</g>
<g fill="none" stroke="#f7a2ad" stroke-width="2.6" stroke-linecap="round">
<path d="M540 514.6 Q573 520 599.8 535.7"/>
<path d="M847 508.8 Q812 518 787.4 532.4"/>
</g>
<ellipse cx="693.5" cy="541" rx="76" ry="40.6" fill="#e8688a" opacity=".55" filter="url(#b1)"/>
<ellipse cx="693.5" cy="540" rx="74.7" ry="39.7" fill="#cc99c8"/>
<g clip-path="url(#cDisc)">
<ellipse cx="693.5" cy="532" rx="72" ry="33" fill="#e2acce" filter="url(#b1)"/>
<ellipse cx="692" cy="519" rx="60" ry="16" fill="#f0bdd6" filter="url(#b4)"/>
<ellipse cx="655" cy="566" rx="38" ry="8" fill="#bfa4d8" opacity=".8" filter="url(#b4)"/>
<ellipse cx="742" cy="562" rx="30" ry="9" fill="#dc9cc4" opacity=".8" filter="url(#b4)"/>
<ellipse cx="700" cy="570" rx="30" ry="5" fill="#e0b4d6" opacity=".7" filter="url(#b3)"/>
</g>
<ellipse cx="694.7" cy="538" rx="39.4" ry="21.5" fill="url(#gBlue)" filter="url(#b1)"/>
<ellipse cx="695" cy="537.3" rx="26.8" ry="14.8" fill="#e692b8" filter="url(#b1)"/>
<ellipse cx="695.3" cy="535.6" rx="22.5" ry="11.8" fill="#ea78a4"/>
<ellipse cx="695" cy="532" rx="17" ry="6.5" fill="#ec86ad" filter="url(#b2)"/>
<path d="M678 545 C688 549 704 549 714 545.5 C706 553 686 553 678 545 Z" fill="#f8d6e4" filter="url(#b1)"/>
<path d="M749.6 524.6 L751.8 523.6 L752.6 526.2 L754.6 525.4 L755.6 528.6 L753 529.6 L751.6 527.4 L750.4 528 Z" fill="#c98fb4" opacity=".8"/>
</g>
<g id="arrows" fill="#393939">
<path d="M307.1 380.1 L307.0 381.7 L306.9 383.9 L306.8 386.5 L306.8 389.5 L306.8 392.5 L307.1 395.4 L307.6 398.2 L308.1 401.0 L308.8 403.9 L309.7 406.9 L310.8 410.0 L312.1 413.1 L313.7 416.3 L315.4 419.6 L317.4 423.0 L319.6 426.4 L322.0 429.8 L324.6 433.3 L327.5 436.7 L330.6 440.3 L333.9 443.8 L337.4 447.3 L341.1 450.8 L345.0 454.2 L349.0 457.6 L353.3 460.9 L357.7 464.1 L362.2 467.3 L366.8 470.4 L371.4 473.3 L376.1 476.1 L380.9 478.7 L385.8 481.3 L390.7 483.7 L395.5 485.9 L400.1 488.0 L404.7 490.0 L409.3 491.8 L413.8 493.4 L418.2 495.0 L422.5 496.4 L426.7 497.6 L430.7 498.8 L434.6 499.8 L438.3 500.6 L442.0 501.4 L445.5 502.1 L449.0 502.7 L452.7 503.3 L456.4 503.7 L460.1 504.2 L463.4 504.5 L466.2 504.8 L468.3 505.0 L469.5 504.8 L470.4 504.0 L470.9 502.8 L470.7 501.6 L469.9 500.7 L468.7 500.2 L466.7 500.0 L463.9 499.8 L460.6 499.5 L457.0 499.1 L453.3 498.7 L449.8 498.1 L446.4 497.6 L442.8 496.9 L439.3 496.2 L435.6 495.4 L431.8 494.5 L427.9 493.4 L423.8 492.2 L419.6 490.9 L415.2 489.4 L410.8 487.9 L406.3 486.1 L401.8 484.3 L397.1 482.3 L392.4 480.1 L387.6 477.7 L382.8 475.3 L378.0 472.7 L373.4 470.0 L368.8 467.2 L364.3 464.3 L359.8 461.2 L355.4 458.0 L351.2 454.8 L347.2 451.6 L343.4 448.3 L339.7 444.9 L336.3 441.5 L333.0 438.1 L329.9 434.6 L327.1 431.3 L324.5 428.0 L322.1 424.7 L320.0 421.4 L318.0 418.2 L316.3 415.0 L314.8 411.9 L313.5 408.9 L312.4 406.0 L311.6 403.2 L310.9 400.4 L310.3 397.7 L309.9 395.0 L309.6 392.3 L309.5 389.4 L309.5 386.6 L309.6 384.0 L309.7 381.8 L309.7 380.1 L309.5 379.5 L309.1 379.0 L308.4 378.8 L307.8 379.0 L307.3 379.4 Z M443.4 468.7 L444.4 470.7 L445.8 473.5 L447.5 476.8 L449.4 480.3 L451.4 483.8 L453.4 487.1 L455.7 490.2 L458.2 493.5 L460.8 496.8 L463.2 499.8 L465.3 502.3 L466.7 504.1 L467.7 504.8 L468.9 504.9 L470.0 504.4 L470.7 503.4 L470.8 502.2 L470.3 501.1 L468.7 499.3 L466.5 496.9 L464.0 494.1 L461.4 491.0 L458.8 487.8 L456.6 484.9 L454.5 481.9 L452.5 478.6 L450.5 475.2 L448.7 472.0 L447.1 469.2 L446.0 467.3 L445.5 466.7 L444.7 466.5 L444.0 466.7 L443.4 467.2 L443.2 468.0 Z M435.4 544.1 L437.0 541.7 L439.2 538.3 L441.9 534.3 L444.7 530.1 L447.7 526.0 L450.6 522.4 L453.8 519.0 L457.4 515.5 L461.2 512.1 L464.8 508.9 L467.8 506.3 L470.0 504.3 L470.7 503.3 L470.7 502.1 L470.2 501.1 L469.2 500.4 L468.0 500.4 L467.0 500.9 L464.8 502.9 L461.8 505.5 L458.2 508.8 L454.4 512.3 L450.7 516.0 L447.4 519.6 L444.3 523.4 L441.3 527.7 L438.4 532.0 L435.8 536.1 L433.6 539.5 L432.0 541.9 L431.7 542.9 L431.9 543.9 L432.6 544.7 L433.6 545.0 L434.6 544.8 Z"/>
<path d="M833.5 205.2 L831.9 205.7 L829.7 206.2 L827.1 206.9 L824.3 207.6 L821.4 208.5 L818.7 209.6 L816.1 210.7 L813.6 211.9 L811.0 213.2 L808.4 214.7 L805.8 216.3 L803.2 218.2 L800.7 220.2 L798.1 222.4 L795.5 224.8 L792.9 227.4 L790.3 230.1 L787.8 233.0 L785.3 236.0 L782.9 239.2 L780.5 242.6 L778.1 246.1 L775.8 249.7 L773.5 253.3 L771.4 257.1 L769.3 261.0 L767.3 265.0 L765.3 269.0 L763.5 273.1 L761.7 277.2 L760.1 281.3 L758.5 285.4 L757.1 289.6 L755.8 293.8 L754.5 298.0 L753.4 302.1 L752.4 306.2 L751.5 310.4 L750.7 314.5 L750.0 318.6 L749.4 322.7 L748.9 326.7 L748.5 330.7 L748.3 334.7 L748.1 338.7 L748.0 342.6 L748.0 346.5 L748.1 350.3 L748.2 354.1 L748.5 357.8 L748.8 361.5 L749.2 365.1 L749.6 368.6 L750.1 372.1 L750.6 375.8 L751.3 379.7 L751.9 383.5 L752.6 387.0 L753.1 390.0 L753.5 392.1 L754.1 393.2 L755.0 393.9 L756.2 394.0 L757.3 393.4 L758.0 392.5 L758.1 391.3 L757.6 389.1 L757.1 386.2 L756.4 382.7 L755.7 378.9 L755.0 375.1 L754.4 371.5 L754.0 368.1 L753.5 364.6 L753.1 361.0 L752.7 357.4 L752.4 353.8 L752.3 350.1 L752.2 346.4 L752.1 342.6 L752.2 338.8 L752.3 334.9 L752.5 331.0 L752.8 327.1 L753.3 323.1 L753.8 319.2 L754.4 315.1 L755.2 311.1 L756.0 307.1 L757.0 303.0 L758.0 298.9 L759.2 294.8 L760.5 290.7 L761.9 286.6 L763.4 282.5 L764.9 278.5 L766.6 274.4 L768.4 270.4 L770.2 266.4 L772.2 262.5 L774.2 258.6 L776.3 254.9 L778.4 251.3 L780.7 247.8 L783.0 244.3 L785.3 241.0 L787.7 237.8 L790.1 234.8 L792.5 232.0 L794.9 229.4 L797.4 226.9 L799.9 224.5 L802.4 222.3 L804.9 220.3 L807.4 218.6 L809.8 217.0 L812.3 215.5 L814.8 214.2 L817.2 213.0 L819.7 211.9 L822.2 210.9 L825.0 210.0 L827.7 209.2 L830.3 208.6 L832.5 208.0 L834.1 207.6 L834.6 207.2 L835.0 206.7 L835.0 206.1 L834.6 205.6 L834.1 205.2 Z M707.8 371.5 L710.5 372.4 L714.2 373.7 L718.6 375.2 L723.3 376.9 L727.8 378.8 L732.0 380.6 L736.0 382.7 L740.3 385.3 L744.7 387.9 L748.7 390.5 L752.1 392.7 L754.5 394.2 L755.7 394.6 L756.9 394.3 L757.8 393.5 L758.2 392.3 L757.9 391.1 L757.1 390.2 L754.6 388.6 L751.2 386.5 L747.2 383.9 L742.8 381.2 L738.3 378.6 L734.0 376.4 L729.6 374.4 L724.9 372.6 L720.2 370.9 L715.7 369.3 L712.0 368.1 L709.4 367.1 L708.2 367.0 L707.1 367.5 L706.4 368.5 L706.3 369.7 L706.8 370.8 Z M782.1 360.0 L780.4 361.6 L778.0 363.8 L775.2 366.3 L772.2 369.2 L769.2 372.0 L766.6 374.8 L764.2 377.6 L761.7 380.7 L759.3 383.9 L757.2 386.8 L755.4 389.2 L754.1 391.0 L753.7 392.0 L753.9 393.1 L754.6 393.9 L755.6 394.3 L756.7 394.1 L757.5 393.4 L758.8 391.6 L760.5 389.1 L762.6 386.2 L764.8 383.1 L767.1 380.0 L769.4 377.2 L771.8 374.5 L774.6 371.7 L777.5 368.8 L780.3 366.2 L782.6 364.0 L784.3 362.4 L784.7 361.7 L784.8 360.8 L784.4 360.1 L783.7 359.7 L782.8 359.6 Z"/>
<path d="M1144.2 629.4 L1144.2 630.8 L1144.2 632.6 L1144.2 634.8 L1144.1 637.2 L1144.0 639.6 L1143.7 641.8 L1143.4 643.9 L1142.9 646.1 L1142.4 648.3 L1141.8 650.5 L1141.1 652.8 L1140.2 655.1 L1139.2 657.5 L1138.1 659.9 L1136.8 662.4 L1135.4 664.9 L1133.8 667.4 L1132.0 670.0 L1130.1 672.7 L1128.0 675.5 L1125.7 678.2 L1123.3 681.0 L1120.7 683.9 L1117.8 686.7 L1114.8 689.6 L1111.5 692.6 L1108.1 695.5 L1104.5 698.5 L1100.7 701.4 L1096.8 704.2 L1092.7 707.0 L1088.5 709.7 L1084.0 712.4 L1079.5 715.0 L1074.9 717.5 L1070.3 719.9 L1065.7 722.0 L1060.9 724.1 L1056.1 726.1 L1051.3 727.9 L1046.6 729.6 L1041.9 731.1 L1037.4 732.4 L1032.9 733.6 L1028.5 734.7 L1024.2 735.6 L1020.0 736.4 L1015.9 737.1 L1012.1 737.7 L1008.4 738.1 L1004.8 738.5 L1001.4 738.7 L998.0 738.9 L994.7 739.1 L991.4 739.1 L988.1 739.2 L984.8 739.1 L981.8 739.0 L979.2 738.9 L977.3 738.9 L976.0 739.2 L975.1 740.2 L974.7 741.5 L975.0 742.8 L976.0 743.7 L977.3 744.1 L979.1 744.1 L981.6 744.2 L984.7 744.2 L988.1 744.2 L991.6 744.2 L995.0 744.0 L998.3 743.8 L1001.7 743.6 L1005.3 743.3 L1008.9 742.9 L1012.8 742.4 L1016.7 741.8 L1020.8 741.0 L1025.1 740.1 L1029.5 739.1 L1034.1 738.0 L1038.7 736.7 L1043.3 735.3 L1048.0 733.7 L1052.8 731.9 L1057.7 730.0 L1062.6 728.0 L1067.4 725.8 L1072.1 723.5 L1076.8 721.1 L1081.4 718.5 L1086.0 715.7 L1090.5 712.9 L1094.8 710.1 L1099.0 707.2 L1102.9 704.3 L1106.7 701.3 L1110.4 698.2 L1113.9 695.2 L1117.1 692.1 L1120.2 689.1 L1123.1 686.2 L1125.8 683.2 L1128.2 680.3 L1130.5 677.4 L1132.6 674.6 L1134.6 671.8 L1136.4 669.1 L1138.0 666.4 L1139.4 663.8 L1140.7 661.2 L1141.9 658.7 L1142.9 656.2 L1143.8 653.7 L1144.6 651.3 L1145.2 649.0 L1145.7 646.7 L1146.1 644.4 L1146.4 642.2 L1146.7 639.8 L1146.8 637.3 L1146.8 634.8 L1146.8 632.6 L1146.8 630.8 L1146.8 629.4 L1146.6 628.8 L1146.2 628.3 L1145.5 628.1 L1144.9 628.3 L1144.4 628.7 Z M1002.7 707.7 L1001.4 709.6 L999.6 712.2 L997.5 715.4 L995.2 718.7 L992.8 721.9 L990.5 724.8 L988.1 727.6 L985.3 730.5 L982.4 733.4 L979.7 736.0 L977.3 738.2 L975.7 739.9 L975.1 740.9 L975.1 742.1 L975.7 743.1 L976.7 743.7 L977.9 743.7 L978.9 743.1 L980.5 741.4 L982.8 739.1 L985.4 736.3 L988.2 733.3 L991.0 730.2 L993.5 727.2 L995.8 724.1 L998.1 720.7 L1000.3 717.2 L1002.3 714.0 L1004.0 711.3 L1005.3 709.3 L1005.5 708.6 L1005.3 707.8 L1004.8 707.2 L1004.1 707.0 L1003.3 707.2 Z M1012.3 783.0 L1010.8 780.5 L1008.7 776.9 L1006.3 772.7 L1003.5 768.1 L1000.7 763.7 L997.8 759.6 L994.6 755.8 L991.1 751.9 L987.4 748.2 L984.0 744.7 L981.1 741.9 L979.0 739.8 L977.9 739.2 L976.7 739.2 L975.6 739.8 L975.0 740.9 L975.0 742.1 L975.6 743.2 L977.7 745.3 L980.7 748.1 L984.1 751.5 L987.7 755.1 L991.2 758.8 L994.2 762.4 L997.0 766.2 L999.8 770.5 L1002.6 774.9 L1005.1 779.1 L1007.1 782.6 L1008.7 785.2 L1009.5 785.9 L1010.5 786.2 L1011.6 785.9 L1012.3 785.1 L1012.6 784.1 Z"/>
<path d="M383.5 770.8 L384.0 769.4 L384.7 767.5 L385.4 765.3 L386.4 763.0 L387.4 760.6 L388.6 758.5 L390.0 756.3 L391.4 754.2 L393.1 752.0 L394.9 749.8 L396.9 747.6 L399.1 745.4 L401.5 743.1 L404.2 740.9 L407.1 738.6 L410.2 736.4 L413.3 734.2 L416.6 732.0 L420.0 730.0 L423.6 728.0 L427.3 726.0 L431.0 724.1 L434.8 722.3 L438.6 720.6 L442.4 719.1 L446.3 717.6 L450.1 716.2 L454.0 714.9 L457.9 713.7 L461.7 712.7 L465.5 711.7 L469.3 710.8 L473.1 710.0 L476.9 709.4 L480.7 708.8 L484.5 708.3 L488.3 707.9 L492.1 707.5 L495.9 707.3 L499.7 707.2 L503.5 707.1 L507.3 707.1 L511.2 707.3 L515.1 707.5 L519.0 707.8 L522.8 708.2 L526.7 708.7 L530.4 709.1 L534.0 709.7 L537.7 710.3 L541.3 711.0 L544.8 711.7 L548.1 712.4 L551.2 713.1 L554.1 713.8 L556.9 714.4 L559.5 715.1 L561.9 715.7 L564.3 716.4 L566.4 716.9 L568.5 717.5 L570.5 718.0 L572.3 718.6 L574.0 719.0 L575.3 719.4 L576.4 719.7 L577.8 719.7 L579.1 719.0 L579.8 717.7 L579.8 716.3 L579.1 715.0 L577.8 714.3 L576.8 714.0 L575.5 713.7 L573.8 713.2 L571.9 712.7 L569.9 712.2 L567.8 711.6 L565.6 711.1 L563.3 710.5 L560.8 709.9 L558.2 709.2 L555.3 708.6 L552.3 707.9 L549.2 707.3 L545.8 706.6 L542.2 705.9 L538.6 705.3 L534.8 704.7 L531.0 704.2 L527.2 703.7 L523.3 703.3 L519.4 703.0 L515.4 702.7 L511.4 702.5 L507.4 702.4 L503.5 702.5 L499.5 702.6 L495.6 702.8 L491.7 703.0 L487.8 703.4 L483.9 703.9 L480.0 704.5 L476.2 705.1 L472.3 705.9 L468.4 706.7 L464.5 707.6 L460.6 708.7 L456.7 709.9 L452.8 711.1 L448.8 712.5 L444.9 713.9 L441.0 715.5 L437.1 717.1 L433.3 718.9 L429.4 720.8 L425.6 722.8 L421.8 724.8 L418.2 727.0 L414.7 729.1 L411.4 731.3 L408.2 733.6 L405.1 736.0 L402.1 738.3 L399.4 740.7 L396.9 743.1 L394.6 745.4 L392.5 747.7 L390.6 750.1 L389.0 752.4 L387.4 754.7 L386.0 757.0 L384.8 759.4 L383.7 761.9 L382.7 764.4 L382.0 766.6 L381.4 768.5 L380.9 769.8 L380.8 770.5 L381.1 771.2 L381.7 771.6 L382.4 771.7 L383.1 771.4 Z M557.5 667.6 L558.1 670.4 L558.9 674.3 L559.8 679.0 L560.8 684.1 L562.1 689.1 L563.5 693.7 L565.2 698.3 L567.3 703.0 L569.6 707.7 L571.8 712.0 L573.6 715.5 L574.9 718.1 L575.7 719.1 L577.0 719.5 L578.2 719.2 L579.2 718.4 L579.6 717.1 L579.3 715.9 L578.0 713.3 L576.0 709.7 L573.8 705.5 L571.5 701.0 L569.3 696.5 L567.5 692.3 L566.1 687.9 L564.8 683.1 L563.6 678.2 L562.6 673.6 L561.7 669.7 L561.1 666.8 L560.6 666.0 L559.8 665.5 L558.9 665.4 L558.1 665.9 L557.6 666.7 Z M542.3 742.6 L544.2 741.1 L546.7 738.9 L549.6 736.4 L552.8 733.8 L556.0 731.2 L559.1 729.1 L562.3 727.1 L565.9 725.1 L569.6 723.2 L573.0 721.5 L576.0 720.0 L578.1 718.9 L579.0 718.2 L579.3 717.1 L579.0 716.0 L578.3 715.1 L577.2 714.8 L576.1 715.1 L574.0 716.2 L571.1 717.7 L567.6 719.6 L563.9 721.6 L560.3 723.8 L556.9 725.9 L553.8 728.3 L550.5 731.0 L547.3 733.8 L544.4 736.4 L542.0 738.6 L540.3 740.2 L539.8 740.9 L539.7 741.7 L540.1 742.4 L540.8 742.9 L541.6 743.0 Z"/>
<path d="M444.6 1134.9 L445.9 1135.5 L447.7 1136.3 L449.8 1137.3 L452.2 1138.4 L454.7 1139.3 L457.1 1140.1 L459.6 1140.8 L462.1 1141.3 L464.7 1141.8 L467.4 1142.2 L470.3 1142.5 L473.3 1142.6 L476.5 1142.6 L479.8 1142.4 L483.2 1142.2 L486.7 1141.7 L490.4 1141.2 L494.0 1140.4 L497.8 1139.5 L501.7 1138.5 L505.7 1137.3 L509.7 1135.9 L513.8 1134.4 L517.9 1132.7 L522.0 1130.9 L526.1 1129.0 L530.3 1126.9 L534.4 1124.6 L538.6 1122.2 L542.7 1119.8 L546.8 1117.1 L550.8 1114.3 L554.9 1111.4 L558.9 1108.4 L562.8 1105.3 L566.6 1102.1 L570.3 1098.9 L574.0 1095.5 L577.6 1092.0 L581.1 1088.4 L584.5 1084.9 L587.7 1081.4 L590.7 1077.8 L593.7 1074.2 L596.5 1070.6 L599.1 1067.1 L601.6 1063.7 L603.9 1060.4 L606.1 1057.2 L608.1 1054.2 L609.9 1051.3 L611.5 1048.5 L613.0 1045.8 L614.5 1043.3 L615.8 1040.8 L617.1 1038.3 L618.2 1036.0 L619.2 1034.0 L620.0 1032.3 L620.6 1031.0 L620.9 1029.7 L620.4 1028.4 L619.4 1027.6 L618.1 1027.3 L616.8 1027.8 L616.0 1028.8 L615.4 1030.1 L614.6 1031.8 L613.6 1033.8 L612.5 1036.1 L611.3 1038.4 L610.1 1040.8 L608.7 1043.3 L607.2 1046.0 L605.6 1048.8 L603.9 1051.6 L602.0 1054.6 L600.0 1057.7 L597.8 1060.9 L595.4 1064.3 L592.8 1067.8 L590.1 1071.4 L587.3 1074.9 L584.3 1078.4 L581.2 1081.9 L578.0 1085.4 L574.6 1089.0 L571.1 1092.4 L567.6 1095.8 L563.9 1099.1 L560.3 1102.2 L556.5 1105.3 L552.6 1108.3 L548.6 1111.2 L544.7 1114.0 L540.7 1116.6 L536.7 1119.1 L532.7 1121.5 L528.6 1123.8 L524.6 1125.9 L520.5 1127.9 L516.5 1129.7 L512.6 1131.3 L508.6 1132.9 L504.7 1134.2 L500.8 1135.5 L497.0 1136.5 L493.4 1137.5 L489.8 1138.2 L486.3 1138.8 L482.9 1139.3 L479.6 1139.6 L476.4 1139.8 L473.3 1139.9 L470.5 1139.8 L467.7 1139.6 L465.1 1139.2 L462.6 1138.8 L460.2 1138.2 L457.8 1137.7 L455.5 1136.9 L453.1 1136.0 L450.8 1135.1 L448.7 1134.1 L446.9 1133.3 L445.6 1132.7 L445.0 1132.6 L444.4 1132.8 L444.0 1133.3 L443.9 1133.9 L444.1 1134.5 Z M577.3 1040.8 L579.6 1040.6 L582.7 1040.4 L586.5 1040.2 L590.5 1039.9 L594.6 1039.4 L598.4 1038.7 L602.2 1037.8 L606.2 1036.6 L610.2 1035.2 L613.8 1033.9 L616.9 1032.7 L619.1 1032.0 L620.0 1031.3 L620.5 1030.3 L620.4 1029.1 L619.7 1028.2 L618.7 1027.7 L617.5 1027.8 L615.3 1028.7 L612.3 1030.0 L608.7 1031.4 L604.9 1032.9 L601.1 1034.2 L597.6 1035.3 L594.0 1036.0 L590.1 1036.6 L586.2 1037.1 L582.5 1037.5 L579.3 1037.8 L577.1 1038.0 L576.4 1038.3 L575.9 1038.8 L575.8 1039.5 L576.1 1040.2 L576.6 1040.7 Z M644.3 1076.6 L642.7 1074.0 L640.3 1070.5 L637.6 1066.3 L634.8 1061.7 L632.1 1057.2 L629.8 1053.1 L627.9 1048.9 L626.0 1044.3 L624.3 1039.7 L622.7 1035.4 L621.4 1031.7 L620.5 1029.1 L619.8 1028.1 L618.7 1027.6 L617.5 1027.7 L616.5 1028.4 L616.0 1029.5 L616.1 1030.7 L617.2 1033.3 L618.5 1036.9 L620.2 1041.3 L622.0 1045.9 L624.1 1050.6 L626.2 1054.9 L628.6 1059.2 L631.4 1063.8 L634.4 1068.3 L637.2 1072.5 L639.6 1076.0 L641.3 1078.6 L642.0 1079.2 L642.9 1079.4 L643.8 1079.1 L644.4 1078.4 L644.6 1077.5 Z"/>
<path d="M1012.4 1100.3 L1013.1 1098.9 L1014.1 1096.9 L1015.4 1094.5 L1016.7 1091.8 L1017.9 1089.0 L1019.0 1086.3 L1019.8 1083.6 L1020.6 1080.8 L1021.3 1077.9 L1021.9 1074.8 L1022.4 1071.7 L1022.7 1068.5 L1022.9 1065.1 L1023.0 1061.6 L1022.9 1058.0 L1022.8 1054.3 L1022.5 1050.6 L1022.1 1046.8 L1021.6 1042.9 L1021.0 1039.0 L1020.3 1035.1 L1019.4 1031.0 L1018.5 1027.0 L1017.4 1023.0 L1016.2 1019.0 L1014.9 1014.9 L1013.5 1010.9 L1011.9 1006.8 L1010.3 1002.8 L1008.5 998.7 L1006.6 994.8 L1004.5 990.8 L1002.4 986.8 L1000.1 982.9 L997.7 979.0 L995.3 975.2 L992.7 971.5 L990.0 967.8 L987.2 964.2 L984.4 960.7 L981.5 957.2 L978.6 954.0 L975.6 950.8 L972.5 947.8 L969.4 944.8 L966.3 942.0 L963.2 939.4 L960.1 936.8 L957.0 934.5 L953.8 932.3 L950.7 930.2 L947.6 928.2 L944.5 926.4 L941.4 924.6 L938.1 922.9 L934.6 921.1 L931.2 919.5 L928.0 918.0 L925.3 916.8 L923.3 915.9 L922.1 915.7 L920.8 916.2 L920.0 917.2 L919.8 918.4 L920.3 919.7 L921.3 920.5 L923.2 921.4 L925.9 922.5 L929.1 924.0 L932.5 925.5 L935.9 927.2 L939.1 928.8 L942.1 930.5 L945.2 932.3 L948.2 934.2 L951.2 936.1 L954.3 938.2 L957.3 940.5 L960.3 942.9 L963.4 945.4 L966.4 948.1 L969.5 951.0 L972.4 953.9 L975.4 956.9 L978.3 960.1 L981.1 963.4 L983.9 966.8 L986.7 970.3 L989.3 973.9 L991.9 977.5 L994.3 981.2 L996.7 984.9 L998.9 988.7 L1001.1 992.6 L1003.1 996.5 L1005.0 1000.4 L1006.8 1004.3 L1008.4 1008.2 L1010.0 1012.1 L1011.4 1016.1 L1012.7 1020.1 L1013.9 1024.0 L1015.0 1027.9 L1016.0 1031.8 L1016.9 1035.7 L1017.7 1039.6 L1018.3 1043.4 L1018.8 1047.2 L1019.2 1050.9 L1019.5 1054.5 L1019.7 1058.1 L1019.8 1061.6 L1019.7 1065.0 L1019.6 1068.2 L1019.3 1071.3 L1018.9 1074.3 L1018.3 1077.2 L1017.7 1080.0 L1017.0 1082.7 L1016.2 1085.3 L1015.2 1088.0 L1014.1 1090.6 L1012.8 1093.2 L1011.6 1095.6 L1010.6 1097.6 L1009.8 1099.1 L1009.7 1099.8 L1009.9 1100.5 L1010.5 1101.0 L1011.2 1101.1 L1011.9 1100.9 Z M970.8 896.8 L968.2 898.2 L964.7 900.1 L960.5 902.3 L956.0 904.6 L951.5 906.8 L947.3 908.6 L942.9 910.2 L938.0 911.7 L933.1 913.0 L928.5 914.2 L924.5 915.2 L921.7 916.0 L920.7 916.6 L920.1 917.6 L920.1 918.8 L920.7 919.8 L921.7 920.4 L922.9 920.4 L925.7 919.6 L929.6 918.5 L934.3 917.2 L939.2 915.7 L944.2 914.1 L948.7 912.4 L953.2 910.3 L957.8 908.0 L962.3 905.5 L966.4 903.2 L969.9 901.2 L972.4 899.8 L973.0 899.2 L973.3 898.3 L973.1 897.5 L972.5 896.9 L971.6 896.6 Z M930.0 960.4 L930.0 958.2 L930.0 955.1 L929.9 951.5 L929.8 947.6 L929.6 943.5 L929.3 939.7 L928.6 935.8 L927.8 931.6 L926.8 927.3 L925.9 923.4 L925.1 920.0 L924.5 917.6 L924.0 916.6 L922.9 916.0 L921.7 916.0 L920.7 916.5 L920.1 917.6 L920.1 918.8 L920.7 921.1 L921.6 924.5 L922.6 928.3 L923.7 932.5 L924.6 936.6 L925.3 940.3 L925.8 943.9 L926.1 947.8 L926.3 951.6 L926.4 955.2 L926.5 958.2 L926.6 960.4 L926.9 961.3 L927.5 961.9 L928.3 962.1 L929.2 961.8 L929.8 961.2 Z"/>
</g>
<g id="labels">
<text class="lbl" y="296.9"><tspan x="160.4" textLength="170.2" lengthAdjust="spacing">Soothes</tspan> <tspan x="339.8" textLength="90.1" lengthAdjust="spacing">sore</tspan></text>
<text class="lbl" y="352.9"><tspan x="237.9" textLength="114.7" lengthAdjust="spacing">gums</tspan></text>
<text class="lbl" y="217.2"><tspan x="859.0" textLength="141.3" lengthAdjust="spacing">Flower</tspan> <tspan x="1011.5" textLength="177.3" lengthAdjust="spacing">teething</tspan></text>
<text class="lbl" y="272.8"><tspan x="953.4" textLength="139.8" lengthAdjust="spacing">design</tspan></text>
<text class="lbl" y="489.9"><tspan x="1033.4" textLength="186.4" lengthAdjust="spacing">Perfectly</tspan> <tspan x="1229.8" textLength="105.9" lengthAdjust="spacing">sized</tspan></text>
<text class="lbl" y="546.1"><tspan x="1037.2" textLength="58.0" lengthAdjust="spacing">for</tspan> <tspan x="1104.3" textLength="92.8" lengthAdjust="spacing">little</tspan> <tspan x="1205.8" textLength="126.9" lengthAdjust="spacing">hands</tspan></text>
<text class="lbl" y="602.4"><tspan x="1070.4" textLength="78.5" lengthAdjust="spacing">and</tspan> <tspan x="1160.2" textLength="138.5" lengthAdjust="spacing">mouth</tspan></text>
<text class="lbl" y="828.7"><tspan x="213.9" textLength="144.8" lengthAdjust="spacing">Rattles</tspan> <tspan x="369.6" textLength="57.6" lengthAdjust="spacing">for</tspan></text>
<text class="lbl" y="892.9"><tspan x="191.0" textLength="179.0" lengthAdjust="spacing">playtime</tspan> <tspan x="380.3" textLength="69.7" lengthAdjust="spacing">fun</tspan></text>
<text class="lbl" y="1110.4"><tspan x="189.0" textLength="97.6" lengthAdjust="spacing">Easy</tspan> <tspan x="296.4" textLength="42.8" lengthAdjust="spacing">to</tspan> <tspan x="348.8" textLength="112.7" lengthAdjust="spacing">clean</tspan></text>
<text class="lbl" y="1151.8"><tspan x="864.4" textLength="214.8" lengthAdjust="spacing">Additional</tspan> <tspan x="1089.2" textLength="156.4" lengthAdjust="spacing">silicone</tspan></text>
<text class="lbl" y="1207.8"><tspan x="917.9" textLength="153.9" lengthAdjust="spacing">teether</tspan> <tspan x="1080.5" textLength="102.1" lengthAdjust="spacing">rings</tspan></text>
</g>
</svg></body></html>
